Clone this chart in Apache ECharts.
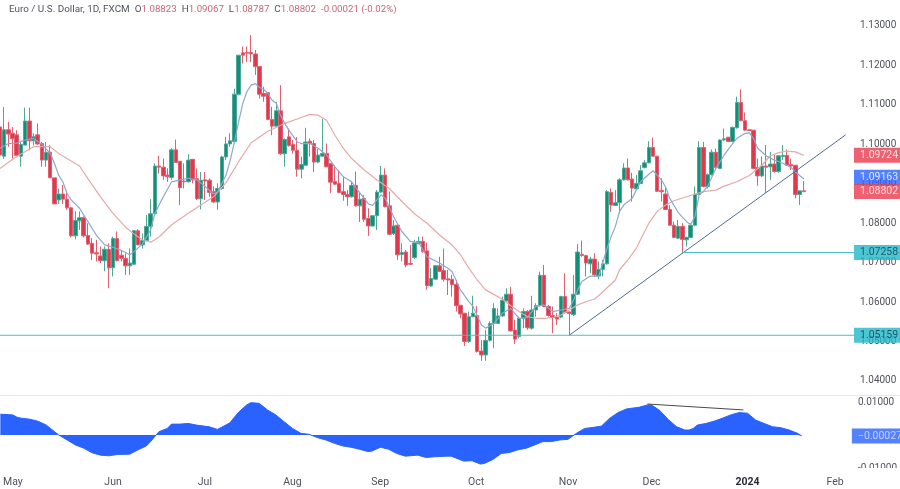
<!DOCTYPE html>
<html>
<head>
<meta charset="utf-8">
<script src="https://cdn.jsdelivr.net/npm/echarts@6/dist/echarts.min.js"></script>
<style>
html,body{margin:0;padding:0;background:#fff;overflow:hidden}
#chart{width:900px;height:489px}
</style>
</head>
<body>
<div id="chart"></div>
<script>
// [open, close, low, high]
const candlesMay = [
[1.1044,1.0973,1.0969,1.1061],[1.0970,1.1037,1.0963,1.1095],[1.1037,1.1026,1.0994,1.1057],[1.1028,1.1014,1.0964,1.1044],
[1.1024,1.0972,1.0969,1.1036],[1.0970,1.1000,1.0943,1.1006],[1.0998,1.1059,1.0998,1.1093],[1.1059,1.1009,1.0985,1.1093],
[1.1009,1.1019,1.0998,1.1028],[1.1024,1.1001,1.0998,1.1053],[1.1002,1.0960,1.0943,1.1006],[1.0960,1.0980,1.0943,1.1006],
[1.0980,1.0915,1.0915,1.0998],[1.0915,1.0849,1.0849,1.0915],[1.0859,1.0874,1.0849,1.0888],[1.0874,1.0861,1.0849,1.0897],
[1.0861,1.0839,1.0834,1.0880],[1.0839,1.0768,1.0764,1.0842],[1.0768,1.0807,1.0759,1.0830],[1.0806,1.0814,1.0783,1.0830],
[1.0814,1.0768,1.0764,1.0817],[1.0769,1.0747,1.0745,1.0800],[1.0749,1.0724,1.0707,1.0762],[1.0725,1.0722,1.0703,1.0758],
[1.0717,1.0705,1.0699,1.0741],[1.0705,1.0734,1.0678,1.0741],[1.0734,1.0687,1.0635,1.0749]
];
const candlesJun = [
[1.0687,1.0761,1.0665,1.0766],[1.0761,1.0705,1.0703,1.0779],[1.0719,1.0711,1.0703,1.0732],[1.0711,1.0692,1.0669,1.0724],
[1.0692,1.0699,1.0669,1.0736],[1.0696,1.0781,1.0694,1.0783],[1.0781,1.0745,1.0745,1.0785],[1.0745,1.0756,1.0736,1.0774],
[1.0756,1.0792,1.0754,1.0821],[1.0792,1.0824,1.0766,1.0861],[1.0824,1.0945,1.0822,1.0952],[1.0945,1.0942,1.0926,1.0971],
[1.0942,1.0920,1.0910,1.0964],[1.0922,1.0918,1.0905,1.0939],[1.0916,1.0986,1.0910,1.0990],[1.0986,1.0954,1.0954,1.1012],
[1.0957,1.0890,1.0846,1.0957],[1.0907,1.0905,1.0888,1.0952],[1.0905,1.0960,1.0903,1.0975],[1.0962,1.0910,1.0901,1.0962],
[1.0913,1.0862,1.0859,1.0939],[1.0862,1.0909,1.0835,1.0930]
];
const candlesJul = [
[1.0910,1.0907,1.0859,1.0930],[1.0909,1.0878,1.0867,1.0914],[1.0880,1.0854,1.0851,1.0893],[1.0854,1.0888,1.0834,1.0901],
[1.0888,1.0968,1.0885,1.0971],[1.0968,1.1001,1.0960,1.1019],[1.1001,1.1009,1.0994,1.1028],[1.1007,1.1127,1.1002,1.1141],
[1.1127,1.1226,1.1124,1.1226],[1.1232,1.1226,1.1205,1.1248],[1.1233,1.1231,1.1209,1.1248],[1.1233,1.1229,1.1209,1.1277],
[1.1229,1.1197,1.1176,1.1239],[1.1197,1.1127,1.1116,1.1197],[1.1129,1.1122,1.1108,1.1146],[1.1131,1.1063,1.1061,1.1131],
[1.1063,1.1046,1.1023,1.1095],[1.1046,1.1085,1.1044,1.1108],[1.1085,1.0976,1.0973,1.1150],[1.0976,1.1012,1.0943,1.1015],
[1.1019,1.0997,1.0994,1.1040]
];
const candlesAug = [
[1.1000,1.0985,1.0977,1.1011],[1.0985,1.0937,1.0918,1.1018],[1.0937,1.0949,1.0914,1.0969],[1.0947,1.1006,1.0945,1.1042],
[1.1008,1.1002,1.0969,1.1015],[1.1002,1.0955,1.0930,1.1011],[1.0955,1.0973,1.0952,1.0989],[1.0970,1.0977,1.0969,1.1065],
[1.0977,1.0943,1.0943,1.1002],[1.0951,1.0904,1.0876,1.0951],[1.0906,1.0899,1.0897,1.0947],[1.0901,1.0878,1.0876,1.0935],
[1.0880,1.0873,1.0857,1.0918],[1.0873,1.0867,1.0844,1.0884],[1.0867,1.0896,1.0865,1.0906],[1.0896,1.0844,1.0842,1.0931],
[1.0844,1.0861,1.0803,1.0880],[1.0863,1.0810,1.0803,1.0872],[1.0812,1.0793,1.0768,1.0838],[1.0793,1.0819,1.0792,1.0821],
[1.0819,1.0879,1.0783,1.0884]
];
const candlesSep = [
[1.0879,1.0922,1.0876,1.0945],[1.0922,1.0842,1.0840,1.0939],[1.0844,1.0772,1.0770,1.0880],[1.0774,1.0793,1.0770,1.0808],
[1.0795,1.0720,1.0707,1.0796],[1.0721,1.0726,1.0703,1.0749],[1.0727,1.0694,1.0688,1.0732],[1.0698,1.0696,1.0694,1.0745],
[1.0713,1.0750,1.0709,1.0758],[1.0748,1.0754,1.0747,1.0766],[1.0754,1.0728,1.0725,1.0766],[1.0730,1.0642,1.0631,1.0751],
[1.0641,1.0660,1.0639,1.0686],[1.0658,1.0692,1.0656,1.0694],[1.0692,1.0678,1.0676,1.0715],[1.0680,1.0658,1.0652,1.0736],
[1.0659,1.0656,1.0618,1.0682],[1.0658,1.0644,1.0614,1.0669],[1.0645,1.0591,1.0576,1.0656],[1.0592,1.0570,1.0559,1.0592],
[1.0572,1.0500,1.0489,1.0572],[1.0500,1.0563,1.0496,1.0576],[1.0563,1.0572,1.0562,1.0616]
];
const candlesOct = [
[1.0566,1.0475,1.0472,1.0590],[1.0476,1.0466,1.0451,1.0504],[1.0466,1.0503,1.0451,1.0530],[1.0503,1.0546,1.0500,1.0551],
[1.0546,1.0584,1.0483,1.0597],[1.0546,1.0565,1.0545,1.0584],[1.0565,1.0605,1.0563,1.0614],[1.0603,1.0620,1.0601,1.0635],
[1.0620,1.0527,1.0525,1.0639],[1.0529,1.0506,1.0494,1.0555],[1.0513,1.0559,1.0508,1.0563],[1.0559,1.0576,1.0534,1.0584],
[1.0576,1.0535,1.0530,1.0580],[1.0534,1.0580,1.0530,1.0616],[1.0580,1.0591,1.0563,1.0597],[1.0591,1.0668,1.0589,1.0677],
[1.0668,1.0589,1.0587,1.0694],[1.0589,1.0566,1.0563,1.0593],[1.0566,1.0561,1.0521,1.0589],[1.0562,1.0557,1.0542,1.0572],
[1.0562,1.0614,1.0559,1.0616],[1.0614,1.0574,1.0572,1.0673]
];
const candlesNov = [
[1.0575,1.0571,1.0516,1.0576],[1.0568,1.0620,1.0565,1.0669],[1.0620,1.0727,1.0618,1.0747],[1.0721,1.0718,1.0715,1.0756],
[1.0718,1.0699,1.0665,1.0720],[1.0697,1.0709,1.0673,1.0715],[1.0709,1.0669,1.0665,1.0724],[1.0666,1.0683,1.0658,1.0703],
[1.0683,1.0697,1.0665,1.0707],[1.0697,1.0880,1.0695,1.0884],[1.0878,1.0846,1.0829,1.0888],[1.0845,1.0852,1.0844,1.0884],
[1.0852,1.0910,1.0825,1.0914],[1.0910,1.0940,1.0908,1.0952],[1.0940,1.0910,1.0908,1.0964],[1.0912,1.0889,1.0855,1.0928],
[1.0887,1.0901,1.0884,1.0922],[1.0901,1.0933,1.0899,1.0947],[1.0941,1.0953,1.0939,1.0960]
];
const candlesDec = [
[1.0953,1.0992,1.0952,1.1008],[1.0992,1.0970,1.0969,1.1017],[1.0970,1.0881,1.0880,1.0970],[1.0883,1.0880,1.0855,1.0914],
[1.0874,1.0835,1.0834,1.0893],[1.0835,1.0795,1.0793,1.0846],[1.0795,1.0764,1.0762,1.0804],[1.0762,1.0792,1.0760,1.0808],
[1.0792,1.0759,1.0724,1.0800],[1.0758,1.0764,1.0741,1.0766],[1.0764,1.0795,1.0762,1.0800],[1.0795,1.0873,1.0792,1.0893],
[1.0873,1.0992,1.0871,1.1008],[1.0992,1.0893,1.0891,1.1006],[1.0893,1.0923,1.0888,1.0926],[1.0923,1.0980,1.0921,1.0987],
[1.0980,1.0941,1.0935,1.0989],[1.0939,1.1011,1.0937,1.1013],[1.1011,1.1014,1.1009,1.1040],[1.1018,1.1007,1.1006,1.1019],
[1.1007,1.1043,1.1005,1.1045],[1.1042,1.1106,1.1040,1.1121],[1.1106,1.1060,1.1058,1.1139],[1.1060,1.1036,1.1034,1.1081]
];
const candlesJan = [
[1.1037,1.1035,1.1034,1.1038],[1.1036,1.0939,1.0937,1.1036],[1.0941,1.0920,1.0895,1.0964],[1.0920,1.0945,1.0917,1.0969],
[1.0945,1.0942,1.0877,1.0998],[1.0943,1.0950,1.0910,1.0981],[1.0950,1.0931,1.0928,1.0973],[1.0931,1.0971,1.0928,1.0973],
[1.0969,1.0972,1.0960,1.0998],[1.0972,1.0947,1.0945,1.0987],[1.0949,1.0945,1.0935,1.0964],[1.0947,1.0873,1.0863,1.0947],
[1.0873,1.0882,1.0846,1.0882],[1.08823,1.08802,1.08787,1.09067]
];
const candles = [].concat(candlesMay,candlesJun,candlesJul,candlesAug,candlesSep,candlesOct,candlesNov,candlesDec,candlesJan);

// [bar, value]
const fastLine = [[0,1.0990],[2,1.1002],[4,1.1003],[6,1.1011],[8,1.1015],[10,1.1000],[12,1.0977],[13,1.0952],[14,1.0922],[15,1.0905],[16,1.0876],[17,1.0859],[19,1.0838],[21,1.0804],[23,1.0770],[25,1.0745],[27,1.0739],[29,1.0731],[31,1.0720],[32,1.0728],[34,1.0747],[36,1.0783],[37,1.0825],[39,1.0867],[41,1.0905],[43,1.0910],[45,1.0914],[47,1.0910],[49,1.0893],[51,1.0874],[52,1.0880],[54,1.0922],[55,1.0960],[56,1.1006],[57,1.1057],[58,1.1104],[59,1.1134],[60,1.1150],[61,1.1154],[62,1.1144],[63,1.1139],[64,1.1129],[65,1.1112],[66,1.1104],[67,1.1074],[68,1.1053],[69,1.1036],[71,1.1006],[72,1.1002],[74,1.1002],[76,1.0990],[78,1.0973],[80,1.0943],[82,1.0918],[84,1.0905],[86,1.0876],[88,1.0849],[89,1.0845],[91,1.0872],[92,1.0863],[94,1.0817],[96,1.0779],[98,1.0754],[100,1.0751],[102,1.0715],[105,1.0699],[107,1.0686],[108,1.0677],[110,1.0631],[112,1.0601],[113,1.0589],[115,1.0542],[116,1.0534],[118,1.0546],[120,1.0572],[122,1.0584],[124,1.0559],[126,1.0561],[128,1.0589],[130,1.0593],[132,1.0576],[134,1.0580],[136,1.0584],[137,1.0605],[138,1.0631],[139,1.0652],[141,1.0666],[143,1.0665],[145,1.0736],[146,1.0766],[147,1.0792],[148,1.0830],[149,1.0846],[151,1.0863],[153,1.0905],[155,1.0924],[156,1.0933],[158,1.0910],[159,1.0891],[160,1.0863],[162,1.0827],[164,1.0804],[165,1.0797],[166,1.0817],[167,1.0872],[168,1.0880],[169,1.0893],[171,1.0939],[173,1.0973],[175,1.1002],[176,1.1015],[178,1.1028],[179,1.1029],[180,1.1015],[181,1.0990],[183,1.0971],[185,1.0960],[187,1.0952],[189,1.0941],[190,1.0930],[192,1.0912]];
const slowLine = [[0,1.0939],[4,1.0969],[8,1.0994],[12,1.0994],[14,1.0977],[16,1.0964],[19,1.0945],[21,1.0913],[24,1.0867],[27,1.0825],[30,1.0790],[32,1.0773],[34,1.0758],[36,1.0752],[38,1.0765],[41,1.0796],[45,1.0825],[48,1.0846],[51,1.0867],[54,1.0903],[57,1.0956],[60,1.1004],[64,1.1033],[68,1.1053],[72,1.1068],[74,1.1076],[76,1.1074],[78,1.1061],[80,1.1023],[82,1.0990],[84,1.0964],[87,1.0935],[90,1.0910],[93,1.0888],[96,1.0855],[99,1.0824],[102,1.0800],[105,1.0770],[108,1.0745],[110,1.0720],[112,1.0686],[114,1.0656],[116,1.0631],[118,1.0619],[120,1.0608],[122,1.0591],[124,1.0576],[126,1.0563],[128,1.0559],[130,1.0559],[132,1.0561],[134,1.0567],[136,1.0580],[138,1.0593],[140,1.0601],[142,1.0608],[143,1.0616],[147,1.0656],[148,1.0682],[150,1.0707],[152,1.0736],[153,1.0758],[155,1.0800],[157,1.0830],[159,1.0846],[161,1.0857],[164,1.0867],[166,1.0874],[168,1.0880],[171,1.0884],[173,1.0894],[176,1.0905],[179,1.0921],[182,1.0947],[184,1.0971],[186,1.0979],[188,1.0983],[190,1.0981],[192,1.0972]];
const oscValues = [[0,.0063],[3,.0061],[4,.0054],[5,.0051],[7,.0048],[9,.0042],[11,.0030],[13,.0010],[14,0],[16,-.0015],[18,-.0030],[20,-.0040],[22,-.0054],[24,-.0061],[26,-.0063],[28,-.0059],[31,-.0058],[33,-.0045],[35,-.0033],[36,-.0020],[37,-.0005],[38,.0010],[40,.0020],[41,.0033],[43,.0033],[45,.0035],[47,.0030],[50,.0025],[52,.0017],[54,.0030],[55,.0037],[57,.0068],[59,.0091],[60,.0098],[62,.0096],[64,.0076],[66,.0061],[68,.0040],[70,.0020],[72,.0005],[74,.0002],[76,-.0008],[78,-.0015],[80,-.0025],[82,-.0033],[84,-.0037],[86,-.0043],[88,-.0050],[89,-.0049],[91,-.0037],[93,-.0043],[95,-.0056],[97,-.0064],[100,-.0061],[102,-.0068],[104,-.0066],[107,-.0064],[108,-.0064],[110,-.0074],[111,-.0079],[113,-.0078],[115,-.0088],[116,-.0086],[118,-.0074],[120,-.0056],[122,-.0053],[124,-.0045],[126,-.0040],[128,-.0030],[130,-.0020],[132,-.0020],[134,-.0015],[136,-.0013],[138,.0005],[140,.0020],[142,.0023],[144,.0027],[146,.0051],[148,.0068],[150,.0079],[153,.0084],[155,.0091],[156,.0091],[158,.0074],[160,.0047],[162,.0025],[164,.0015],[165,.0015],[166,.0020],[167,.0030],[169,.0035],[171,.0042],[173,.0051],[175,.0061],[177,.0068],[179,.0066],[181,.0045],[183,.0035],[185,.0025],[187,.0022],[189,.0015],[191,.0005],[192,-.0003]];

const trendLine = [[136,1.0516],[202,1.1024]];
const supportLow = [[0,1.05159],[204,1.05159]];
const supportHigh = [[163,1.07258],[204,1.07258]];
const divergenceLine = [[155,.0094],[178,.0076]];

const priceTicks = [1.04,1.05,1.06,1.07,1.08,1.09,1.10,1.11,1.12,1.13];
const oscTicks = [.01,-.01];
const monthBars = [3,27,49,70,91,114,136,156,179,200];
const monthNames = ['May','Jun','Jul','Aug','Sep','Oct','Nov','Dec','2024','Feb'];
const priceTags = [
    {value:1.09724,text:'1.09724',bg:'#e8394d',fg:'#fff'},
    {value:1.09163,text:'1.09163',bg:'#2962ff',fg:'#fff'},
    {value:1.08802,text:'1.08802',bg:'#e8394d',fg:'#fff'},
    {value:1.07258,text:'1.07258',bg:'#1fb6c9',fg:'#1d3b44'},
    {value:1.05159,text:'1.05159',bg:'#1fb6c9',fg:'#1d3b44'}
];
const lastOsc = -0.00027;

const font = 'Roboto';
const barIndexes = [];
for (let i = 0; i <= 204; i++) barIndexes.push(String(i));

function lineSeries(data, color, width, axis) {
    return {type:'line',data:data,xAxisIndex:axis,yAxisIndex:axis,showSymbol:false,silent:true,
        lineStyle:{color:color,width:width}};
}

function tagSeries(tag, axis) {
    return {type:'scatter',xAxisIndex:axis,yAxisIndex:axis,symbolSize:0,silent:true,z:5,clip:false,
        data:[[204,tag.value]],
        label:{show:true,position:'right',distance:0,formatter:tag.text,fontFamily:font,fontSize:10.5,
            color:tag.fg,backgroundColor:tag.bg,padding:[2,5,2,6],width:46,height:11,lineHeight:11,align:'left'}};
}

let chart = echarts.init(document.getElementById('chart'), null, {renderer:'canvas'});
let option = {
    animation:false,
    backgroundColor:'#fff',
    title:{
        left:4,top:0,
        text:'{n|Euro / U.S. Dollar, 1D, FXCM}  {n|O}{v|1.08823}  {n|H}{v|1.09067}  {n|L}{v|1.08787}  {n|C}{v|1.08802}  {v|-0.00021 (-0.02%)}',
        textStyle:{fontSize:10,fontWeight:'normal',fontFamily:font,
            rich:{
                n:{color:'#50535e',fontFamily:font,fontSize:9.9},
                v:{color:'#c4697a',fontFamily:font,fontSize:9.7}
            }}
    },
    grid:[
        {left:0,top:0,width:854,height:395},
        {left:0,top:396,width:854,height:73}
    ],
    xAxis:[
        {type:'category',gridIndex:0,data:barIndexes,boundaryGap:false,show:false},
        {type:'category',gridIndex:1,data:barIndexes,boundaryGap:false,
            axisLine:{show:false},axisTick:{show:false},splitLine:{show:false},
            axisLabel:{
                margin:8,hideOverlap:false,color:'#50535e',fontFamily:font,fontSize:10.5,
                interval:function (i) { return monthBars.indexOf(i) >= 0; },
                formatter:function (v, i) {
                    let name = monthNames[monthBars.indexOf(i)];
                    return name === '2024' ? '{b|2024}' : name;
                },
                rich:{b:{fontWeight:'bold',color:'#2a2e39',fontFamily:font,fontSize:10.5}}
            }}
    ],
    yAxis:[
        {type:'value',gridIndex:0,position:'right',min:1.03645,max:1.13659,
            axisLine:{show:false},axisTick:{show:false},splitLine:{show:false},
            axisLabel:{margin:6,padding:[0,0,2,0],color:'#50535e',fontFamily:font,fontSize:10,customValues:priceTicks,
                formatter:function (v) { return v.toFixed(5); }}},
        {type:'value',gridIndex:1,position:'right',min:-.0103,max:.01182,
            axisLine:{show:false},axisTick:{show:false},splitLine:{show:false},
            axisLabel:{margin:6,padding:[0,0,2,0],color:'#50535e',fontFamily:font,fontSize:10,customValues:oscTicks,
                formatter:function (v) { return v.toFixed(5); }}}
    ],
    series:[
        {type:'candlestick',xAxisIndex:0,yAxisIndex:0,data:candles,barWidth:4,silent:true,
            itemStyle:{color:'#128f78',color0:'#e0394e',borderColor:'#4fa796',borderColor0:'#e0606f',borderWidth:1}},
        lineSeries(slowLine,'#e3aaa8',1.2,0),
        lineSeries(fastLine,'#8fa7cf',1.2,0),
        lineSeries(trendLine,'#4f6c93',1,0),
        lineSeries(supportLow,'#4dbcc9',1,0),
        lineSeries(supportHigh,'#4dbcc9',1,0),
        Object.assign(lineSeries(oscValues,'#2962ff',1,1),{areaStyle:{color:'#2962ff',opacity:1}}),
        lineSeries(divergenceLine,'#4a4a4a',1,1)
    ].concat(
        priceTags.map(function (tag) { return tagSeries(tag,0); }),
        [tagSeries({value:lastOsc,text:'\u22120.00027',bg:'#2962ff',fg:'#dfe7ff'},1)]
    ),
    graphic:[
        {type:'rect',z:100,shape:{x:0,y:395,width:900,height:1},style:{fill:'#e6e7ea'}},
        {type:'rect',z:100,shape:{x:855,y:468,width:45,height:8},style:{fill:'#fff'}}
    ]
};
chart.setOption(option);
</script>
</body>
</html>
